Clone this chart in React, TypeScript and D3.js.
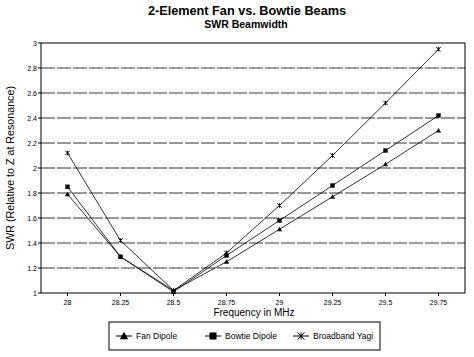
import React from "react";
import * as d3 from "d3";

const categories = ["28", "28.25", "28.5", "28.75", "29", "29.25", "29.5", "29.75"];
const fanDipole = [1.79, 1.29, 1.02, 1.25, 1.51, 1.77, 2.03, 2.3];
const bowtieDipole = [1.85, 1.29, 1.01, 1.3, 1.58, 1.86, 2.14, 2.42];
const broadbandYagi = [2.12, 1.42, 1.02, 1.32, 1.7, 2.1, 2.52, 2.95];
const yTicks = [1, 1.2, 1.4, 1.6, 1.8, 2, 2.2, 2.4, 2.6, 2.8, 3];

const W = 474, H = 357;
const L = 41, R = 465, T = 43, B = 293;

function Marker({ kind, x, y, s = 1 }: { kind: string; x: number; y: number; s?: number }) {
  if (kind === "tri") {
    const r = 2.6 * s;
    return <path d={`M${x},${y - r}L${x + r},${y + r * 0.8}L${x - r},${y + r * 0.8}Z`} fill="#000" />;
  }
  if (kind === "sq") {
    const r = 2.2 * s;
    return <rect x={x - r} y={y - r} width={2 * r} height={2 * r} fill="#000" />;
  }
  const r = 2.2 * s;
  return (
    <g stroke="#000" strokeWidth={1}>
      <line x1={x - r} y1={y - r} x2={x + r} y2={y + r} />
      <line x1={x - r} y1={y + r} x2={x + r} y2={y - r} />
      <line x1={x} y1={y - r} x2={x} y2={y + r} />
    </g>
  );
}

export default function App() {
  const x = d3.scaleBand<string>().domain(categories).range([L, R]);
  const cx = (c: string) => (x(c) as number) + x.bandwidth() / 2;
  const y = d3.scaleLinear().domain([1, 3]).range([B, T]);
  const line = d3
    .line<number>()
    .x((_, i) => cx(categories[i]))
    .y((v) => y(v));
  const series = [
    { name: "Fan Dipole", data: fanDipole, kind: "tri" },
    { name: "Bowtie Dipole", data: bowtieDipole, kind: "sq" },
    { name: "Broadband Yagi", data: broadbandYagi, kind: "ast" },
  ];
  const legendX = [124, 213, 301];
  return (
    <svg width={W} height={H} style={{ position: "absolute", left: 0, top: 0, background: "#fff" }}
      fontFamily="Liberation Sans, Arial, sans-serif">
      <rect x={0} y={0} width={W} height={H} fill="#fff" />
      <text x={247} y={15} textAnchor="middle" fontSize={12.7} fontWeight="bold">2-Element Fan vs. Bowtie Beams</text>
      <text x={246} y={28} textAnchor="middle" fontSize={10.5} fontWeight="bold">SWR Beamwidth</text>
      {yTicks.map((t) => (
        <g key={t}>
          {t > 1 && t < 3 && (
            <line x1={L} x2={R} y1={y(t)} y2={y(t)} stroke="#333" strokeWidth={1} strokeDasharray="14,2" />
          )}
          <line x1={L - 3} x2={L} y1={y(t)} y2={y(t)} stroke="#000" />
          <text x={L - 4} y={y(t) + 2.5} textAnchor="end" fontSize={7}>{t}</text>
        </g>
      ))}
      <rect x={L} y={T} width={R - L} height={B - T} fill="none" stroke="#000" strokeWidth={1} />
      {categories.map((c, i) => (
        <line key={i} x1={cx(c)} x2={cx(c)} y1={B} y2={B + 3} stroke="#000" />
      ))}
      {categories.map((c, i) => (
        <text key={i} x={cx(c)} y={305} textAnchor="middle" fontSize={7}>{c}</text>
      ))}
      {series.map((s) => (
        <g key={s.name}>
          <path d={line(s.data) || ""} fill="none" stroke="#000" strokeWidth={0.8} />
          {s.data.map((v, i) => (
            <Marker key={i} kind={s.kind} x={cx(categories[i])} y={y(v)} />
          ))}
        </g>
      ))}
      <text x={254} y={316} textAnchor="middle" fontSize={10}>Frequency in MHz</text>
      <text transform={`translate(14,${(T + B) / 2}) rotate(-90)`} textAnchor="middle" fontSize={10.7}>
        SWR (Relative to Z at Resonance)
      </text>
      <rect x={109} y={322} width={271} height={28} fill="none" stroke="#000" />
      {series.map((s, i) => (
        <g key={s.name}>
          <line x1={legendX[i] - 8} x2={legendX[i] + 8} y1={336} y2={336} stroke="#000" />
          <Marker kind={s.kind} x={legendX[i]} y={336} s={1.6} />
          <text x={legendX[i] + 12} y={339} fontSize={8.5}>{s.name}</text>
        </g>
      ))}
    </svg>
  );
}
